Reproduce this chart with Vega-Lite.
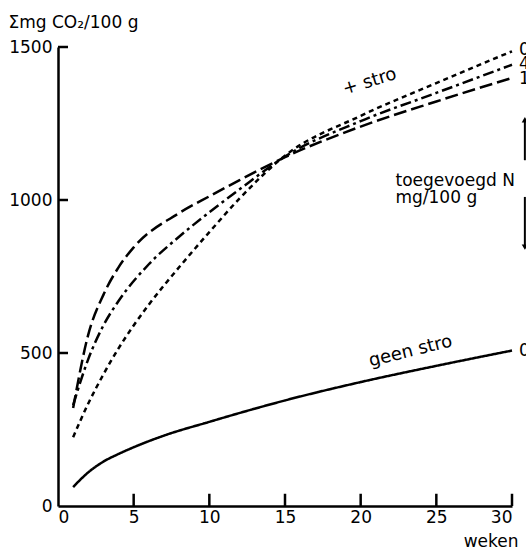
{
  "$schema": "https://vega.github.io/schema/vega-lite/v6.json",
  "width": 454,
  "height": 459,
  "autosize": {"type": "none"},
  "padding": {"left": 58, "top": 47, "right": 14, "bottom": 43},
  "background": "white",
  "config": {
    "view": {"stroke": null},
    "font": "DejaVu Sans",
    "axis": {
      "grid": false,
      "ticks": false,
      "domainColor": "black",
      "domainWidth": 2.5,
      "labelColor": "black",
      "titleColor": "black",
      "labelFont": "DejaVu Sans",
      "titleFont": "DejaVu Sans",
      "titleFontWeight": "normal"
    }
  },
  "datasets": {
    "curves": [
      {"series": "geen", "week": 1, "co2": 62},
      {"series": "geen", "week": 2, "co2": 110},
      {"series": "geen", "week": 3, "co2": 145},
      {"series": "geen", "week": 4, "co2": 170},
      {"series": "geen", "week": 5, "co2": 192},
      {"series": "geen", "week": 7, "co2": 230},
      {"series": "geen", "week": 10, "co2": 275},
      {"series": "geen", "week": 13, "co2": 318},
      {"series": "geen", "week": 15, "co2": 345},
      {"series": "geen", "week": 20, "co2": 405},
      {"series": "geen", "week": 25, "co2": 458},
      {"series": "geen", "week": 30, "co2": 508},
      {"series": "N0", "week": 1, "co2": 225},
      {"series": "N0", "week": 2, "co2": 335},
      {"series": "N0", "week": 3, "co2": 430},
      {"series": "N0", "week": 4, "co2": 515},
      {"series": "N0", "week": 5, "co2": 590},
      {"series": "N0", "week": 6, "co2": 658},
      {"series": "N0", "week": 8, "co2": 780},
      {"series": "N0", "week": 10, "co2": 895},
      {"series": "N0", "week": 12, "co2": 1005},
      {"series": "N0", "week": 15, "co2": 1145},
      {"series": "N0", "week": 20, "co2": 1275},
      {"series": "N0", "week": 25, "co2": 1382},
      {"series": "N0", "week": 30, "co2": 1486},
      {"series": "N4", "week": 1, "co2": 330},
      {"series": "N4", "week": 2, "co2": 480},
      {"series": "N4", "week": 3, "co2": 590},
      {"series": "N4", "week": 4, "co2": 670},
      {"series": "N4", "week": 6, "co2": 790},
      {"series": "N4", "week": 8, "co2": 880},
      {"series": "N4", "week": 10, "co2": 960},
      {"series": "N4", "week": 12, "co2": 1035},
      {"series": "N4", "week": 15, "co2": 1142},
      {"series": "N4", "week": 20, "co2": 1258},
      {"series": "N4", "week": 25, "co2": 1350},
      {"series": "N4", "week": 30, "co2": 1442},
      {"series": "N10", "week": 1, "co2": 320},
      {"series": "N10", "week": 2, "co2": 560},
      {"series": "N10", "week": 3, "co2": 690},
      {"series": "N10", "week": 4, "co2": 780},
      {"series": "N10", "week": 5, "co2": 845},
      {"series": "N10", "week": 8, "co2": 957},
      {"series": "N10", "week": 10, "co2": 1012},
      {"series": "N10", "week": 12, "co2": 1065},
      {"series": "N10", "week": 15, "co2": 1140},
      {"series": "N10", "week": 20, "co2": 1240},
      {"series": "N10", "week": 25, "co2": 1322},
      {"series": "N10", "week": 30, "co2": 1399}
    ],
    "endlabels": [
      {"week": 30, "co2": 1490, "label": "0"},
      {"week": 30, "co2": 1443, "label": "4"},
      {"week": 30, "co2": 1395, "label": "10"},
      {"week": 30, "co2": 508, "label": "0"}
    ],
    "xticks": [{"week": 5}, {"week": 10}, {"week": 15}, {"week": 20}, {"week": 25}, {"week": 30}],
    "yticks": [{"co2": 500}, {"co2": 1000}, {"co2": 1500}]
  },
  "layer": [
    {
      "data": {"name": "curves"},
      "mark": {"type": "line", "interpolate": "monotone", "color": "black", "strokeWidth": 2.5},
      "encoding": {
        "x": {
          "field": "week", "type": "quantitative",
          "scale": {"domain": [0, 30], "nice": false, "zero": false},
          "axis": {
            "values": [0, 5, 10, 15, 20, 25, 30],
            "format": "d",
            "labelPadding": 3,
            "labelFontSize": 17,
            "title": "weken",
            "titleFontSize": 17,
            "titleX": 460,
            "titleY": 40,
            "titleAlign": "right",
            "titleBaseline": "alphabetic"
          }
        },
        "y": {
          "field": "co2", "type": "quantitative",
          "scale": {"domain": [0, 1500], "nice": false},
          "axis": {
            "values": [0, 500, 1000, 1500],
            "format": "d",
            "labelPadding": 6,
            "labelFontSize": 17,
            "title": "Σmg CO₂/100 g",
            "titleFontSize": 17,
            "titleAngle": 0,
            "titleX": -50,
            "titleY": -20,
            "titleAlign": "left",
            "titleBaseline": "alphabetic"
          }
        },
        "detail": {"field": "series"},
        "strokeDash": {
          "field": "series", "type": "nominal",
          "scale": {"domain": ["geen", "N0", "N4", "N10"], "range": [[1, 0], [5, 4], [11, 4, 3, 4], [13, 5]]},
          "legend": null
        }
      }
    },
    {
      "data": {"name": "xticks"},
      "mark": {"type": "rule", "color": "black", "strokeWidth": 2.5},
      "encoding": {
        "x": {"field": "week", "type": "quantitative"},
        "y": {"datum": 0, "type": "quantitative"},
        "y2": {"datum": 40}
      }
    },
    {
      "data": {"name": "yticks"},
      "mark": {"type": "rule", "color": "black", "strokeWidth": 2.5},
      "encoding": {
        "y": {"field": "co2", "type": "quantitative"},
        "x": {"datum": 0, "type": "quantitative"},
        "x2": {"datum": 0.66}
      }
    },
    {
      "data": {"name": "endlabels"},
      "mark": {"type": "text", "align": "left", "baseline": "middle", "dx": 7, "fontSize": 17, "color": "black"},
      "encoding": {
        "x": {"field": "week", "type": "quantitative"},
        "y": {"field": "co2", "type": "quantitative"},
        "text": {"field": "label"}
      }
    },
    {
      "data": {"values": [{"week": 20.6, "co2": 1386, "label": "+ stro"}]},
      "mark": {"type": "text", "angle": -17, "fontSize": 18, "color": "black", "align": "center", "baseline": "middle"},
      "encoding": {
        "x": {"field": "week", "type": "quantitative"},
        "y": {"field": "co2", "type": "quantitative"},
        "text": {"field": "label"}
      }
    },
    {
      "data": {"values": [{"week": 23.3, "co2": 505, "label": "geen stro"}]},
      "mark": {"type": "text", "angle": -14, "fontSize": 18, "color": "black", "align": "center", "baseline": "middle"},
      "encoding": {
        "x": {"field": "week", "type": "quantitative"},
        "y": {"field": "co2", "type": "quantitative"},
        "text": {"field": "label"}
      }
    },
    {
      "data": {"values": [{"week": 22.3, "co2": 1046, "label": "toegevoegd N"}, {"week": 22.3, "co2": 990, "label": "mg/100 g"}]},
      "mark": {"type": "text", "fontSize": 17, "color": "black", "align": "left", "baseline": "alphabetic"},
      "encoding": {
        "x": {"field": "week", "type": "quantitative"},
        "y": {"field": "co2", "type": "quantitative"},
        "text": {"field": "label"}
      }
    },
    {
      "data": {"values": [{"week": 30.85, "co2": 1130, "co2end": 1262}, {"week": 30.85, "co2": 846, "co2end": 1010}]},
      "mark": {"type": "rule", "color": "black", "strokeWidth": 2},
      "encoding": {
        "x": {"field": "week", "type": "quantitative"},
        "y": {"field": "co2", "type": "quantitative"},
        "y2": {"field": "co2end"}
      }
    },
    {
      "data": {"values": [{"week": 30.85, "co2": 1262}]},
      "mark": {"type": "point", "shape": "triangle-up", "filled": true, "color": "black", "opacity": 1, "size": 40},
      "encoding": {
        "x": {"field": "week", "type": "quantitative"},
        "y": {"field": "co2", "type": "quantitative"}
      }
    },
    {
      "data": {"values": [{"week": 30.85, "co2": 846}]},
      "mark": {"type": "point", "shape": "triangle-down", "filled": true, "color": "black", "opacity": 1, "size": 40},
      "encoding": {
        "x": {"field": "week", "type": "quantitative"},
        "y": {"field": "co2", "type": "quantitative"}
      }
    }
  ]
}
